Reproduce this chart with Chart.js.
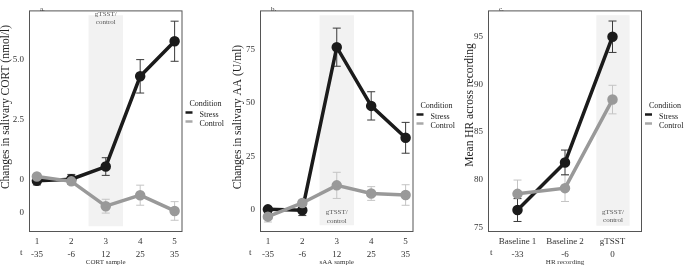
<!DOCTYPE html>
<html>
<head>
<meta charset="utf-8">
<script src="https://cdn.jsdelivr.net/npm/chart.js@4.4.1/dist/chart.umd.min.js"></script>
<style>
  body { margin: 0; background: #fff; }
  #wrap { position: relative; width: 685px; height: 266px; overflow: hidden; }
  canvas { position: absolute; top: 0; }
</style>
</head>
<body>
<div id="wrap">
  <canvas id="cort" width="230" height="266" style="left:0px"></canvas>
  <canvas id="saa" width="225" height="266" style="left:230px"></canvas>
  <canvas id="hr" width="230" height="266" style="left:455px"></canvas>
</div>
<script>
// panel a - CORT
const cortSamples = [1, 2, 3, 4, 5];
const cortTimes = ["-35", "-6", "12", "25", "35"];
const cortStress = [-0.07, 0, 0.53, 4.31, 5.78];
const cortStressErr = [0.17, 0.2, 0.37, 0.7, 0.84];
const cortControl = [0.11, -0.09, -1.13, -0.67, -1.33];
const cortControlErr = [0.1, 0.12, 0.29, 0.42, 0.39];
const cortYTicks = [5, 2.5, 0, -1.4];
const cortYLabels = ["5.0", "2.5", "0", "0"];

// panel b - sAA
const saaSamples = [1, 2, 3, 4, 5];
const saaTimes = ["-35", "-6", "12", "25", "35"];
const saaStress = [0.3, -0.1, 76, 48.6, 33.7];
const saaStressErr = [1.2, 2.5, 8.9, 6.6, 7.2];
const saaControl = [-3.1, 3.3, 11.5, 7.7, 7.0];
const saaControlErr = [2.5, 1.2, 6.1, 3.2, 4.8];
const saaYTicks = [0, 25, 50, 75];

// panel c - HR
const hrRecordings = ["Baseline 1", "Baseline 2", "gTSST"];
const hrTimes = ["-33", "-6", "0"];
const hrStress = [76.8, 81.8, 95.0];
const hrStressErr = [1.2, 1.3, 1.65];
const hrControl = [78.5, 79.1, 88.4];
const hrControlErr = [1.45, 1.4, 1.5];
const hrYTicks = [75, 80, 85, 90, 95];

const SERIF = "'Liberation Serif', 'Times New Roman', serif";
const STRESS_COL = "#1b1b1b";
const CONTROL_COL = "#999999";

const panelDecor = {
  id: "panelDecor",
  beforeDatasetsDraw(chart, args, o) {
    const { ctx, scales: { x, y } } = chart;
    ctx.save();
    // shaded gTSST window
    ctx.fillStyle = "#f2f2f2";
    const sx0 = x.getPixelForValue(o.shade[0]), sx1 = x.getPixelForValue(o.shade[1]);
    const sy0 = y.getPixelForValue(o.shade[3]), sy1 = y.getPixelForValue(o.shade[2]);
    ctx.fillRect(sx0, sy0, sx1 - sx0, sy1 - sy0);
    ctx.fillStyle = "#555";
    ctx.font = "7px " + SERIF;
    ctx.textAlign = "center";
    ctx.textBaseline = "middle";
    const cx = (sx0 + sx1) / 2;
    ctx.fillText("gTSST/", cx, o.shadeTextY);
    ctx.fillText("control", cx, o.shadeTextY + 8.5);
    // error bars
    o.errors.forEach((e) => {
      ctx.strokeStyle = e.color;
      ctx.lineWidth = 1;
      e.xs.forEach((xv, i) => {
        const px = x.getPixelForValue(xv);
        const top = y.getPixelForValue(e.ys[i] + e.err[i]);
        const bot = y.getPixelForValue(e.ys[i] - e.err[i]);
        ctx.beginPath();
        ctx.moveTo(px, top); ctx.lineTo(px, bot);
        ctx.moveTo(px - 4, top); ctx.lineTo(px + 4, top);
        ctx.moveTo(px - 4, bot); ctx.lineTo(px + 4, bot);
        ctx.stroke();
      });
    });
    ctx.restore();
  },
  afterDraw(chart, args, o) {
    const { ctx, chartArea: a } = chart;
    ctx.save();
    ctx.strokeStyle = "#555";
    ctx.lineWidth = 1;
    ctx.strokeRect(a.left - 0.5, a.top - 0.5, a.right - a.left + 1, a.bottom - a.top + 1);
    ctx.fillStyle = "#333";
    ctx.font = "7px " + SERIF;
    ctx.textBaseline = "middle";
    ctx.fillText(o.tag, a.left + 10, 9);
    ctx.font = "9px " + SERIF;
    ctx.fillText("t", o.tX, 252.5);
    // y axis title
    ctx.save();
    ctx.translate(o.yTitleX, o.yTitleY);
    ctx.rotate(-Math.PI / 2);
    ctx.textAlign = "center";
    ctx.fillStyle = "#222";
    ctx.font = "11.5px " + SERIF;
    ctx.fillText(o.yTitle, 0, 0);
    ctx.restore();
    // legend
    const lx = a.right + 8;
    ctx.fillStyle = "#222";
    ctx.font = "8px " + SERIF;
    ctx.fillText("Condition", lx, o.legendY);
    [["Stress", STRESS_COL], ["Control", "#a8a8a8"]].forEach((it, i) => {
      const yy = o.legendY + 8.5 + i * 9;
      ctx.strokeStyle = it[1];
      ctx.lineWidth = 2.5;
      ctx.beginPath();
      ctx.moveTo(lx - 4, yy); ctx.lineTo(lx + 3, yy);
      ctx.stroke();
      ctx.fillStyle = "#222";
      ctx.fillText(it[0], lx + 10, yy + 2);
    });
    ctx.restore();
  },
};

function makePanel(id, p) {
  const W = document.getElementById(id).width;
  return new Chart(document.getElementById(id), {
    type: "line",
    data: {
      datasets: [
        {
          label: "Control",
          data: p.xs.map((v, i) => ({ x: v, y: p.control[i] })),
          borderColor: CONTROL_COL,
          backgroundColor: CONTROL_COL,
          borderWidth: 3.5,
          pointRadius: 3.5,
        },
        {
          label: "Stress",
          data: p.xs.map((v, i) => ({ x: v, y: p.stress[i] })),
          borderColor: STRESS_COL,
          backgroundColor: STRESS_COL,
          borderWidth: 3.5,
          pointRadius: 3.5,
        },
      ],
    },
    options: {
      responsive: false,
      animation: false,
      layout: { padding: { left: 0, right: W - p.right, top: 1, bottom: 0 } },
      plugins: {
        legend: { display: false },
        tooltip: { enabled: false },
        panelDecor: {
          shade: p.shade,
          shadeTextY: p.shadeTextY,
          tag: p.tag,
          tX: p.tX,
          legendY: p.legendY,
          yTitle: p.yTitle,
          yTitleX: p.yTitleX,
          yTitleY: p.yTitleY,
          errors: [
            { xs: p.xs, ys: p.control, err: p.controlErr, color: "#c4c4c4" },
            { xs: p.xs, ys: p.stress, err: p.stressErr, color: "#3a3a3a" },
          ],
        },
      },
      scales: {
        x: {
          type: "linear",
          min: p.xMin,
          max: p.xMax,
          grid: { display: false, drawTicks: false },
          border: { display: false },
          afterBuildTicks: (s) => { s.ticks = p.xs.map((v) => ({ value: v })); },
          afterFit: (s) => { s.height = 266 - 231; },
          ticks: {
            autoSkip: false,
            maxRotation: 0,
            padding: 4,
            color: "#333",
            font: { family: SERIF, size: 9, lineHeight: 1.45 },
            callback: (v, i) => [p.xLabels[i], p.times[i]],
          },
          title: {
            display: true,
            text: p.xTitle,
            color: "#333",
            font: { family: SERIF, size: 7 },
            padding: { top: 0, bottom: 0 },
          },
        },
        y: {
          min: p.yMin,
          max: p.yMax,
          grid: { display: false, drawTicks: false },
          border: { display: false },
          afterBuildTicks: (s) => { s.ticks = p.yTicks.map((v) => ({ value: v })); },
          afterFit: (s) => { s.width = p.left; },
          ticks: {
            padding: 6,
            color: "#333",
            font: { family: SERIF, size: 9 },
            callback: (v, i) => p.yLabels[i],
          },
        },
      },
    },
    plugins: [panelDecor],
  });
}

makePanel("cort", {
  xs: cortSamples, xLabels: cortSamples.map(String), times: cortTimes,
  stress: cortStress, stressErr: cortStressErr, control: cortControl, controlErr: cortControlErr,
  xMin: 0.8, xMax: 5.2, yMin: -2.17, yMax: 7.03,
  yTicks: cortYTicks, yLabels: cortYLabels,
  yTitle: "Changes in salivary CORT (nmol/l)", xTitle: "CORT sample",
  left: 30, right: 181.5, yTitleX: 5.5, yTitleY: 107,
  shade: [2.5, 3.5, -1.97, 6.87], shadeTextY: 14,
  tag: "a.", tX: 20, legendY: 104,
});

makePanel("saa", {
  xs: saaSamples, xLabels: saaSamples.map(String), times: saaTimes,
  stress: saaStress, stressErr: saaStressErr, control: saaControl, controlErr: saaControlErr,
  xMin: 0.8, xMax: 5.2, yMin: -9.8, yMax: 92.7,
  yTicks: saaYTicks, yLabels: saaYTicks.map(String),
  yTitle: "Changes in salivary AA (U/ml)", xTitle: "sAA sample",
  left: 31, right: 182.5, yTitleX: 8, yTitleY: 117,
  shade: [2.5, 3.5, -7.1, 90.9], shadeTextY: 212.5,
  tag: "b.", tX: 19, legendY: 106,
});

makePanel("hr", {
  xs: [1, 2, 3], xLabels: hrRecordings, times: hrTimes,
  stress: hrStress, stressErr: hrStressErr, control: hrControl, controlErr: hrControlErr,
  xMin: 0.4, xMax: 3.6, yMin: 74.6, yMax: 97.66,
  yTicks: hrYTicks, yLabels: hrYTicks.map(String),
  yTitle: "Mean HR across recording", xTitle: "HR recording",
  left: 34, right: 186, yTitleX: 15, yTitleY: 105,
  shade: [2.66, 3.36, 75.15, 97.26], shadeTextY: 212,
  tag: "c.", tX: 35, legendY: 106,
});
</script>
</body>
</html>
